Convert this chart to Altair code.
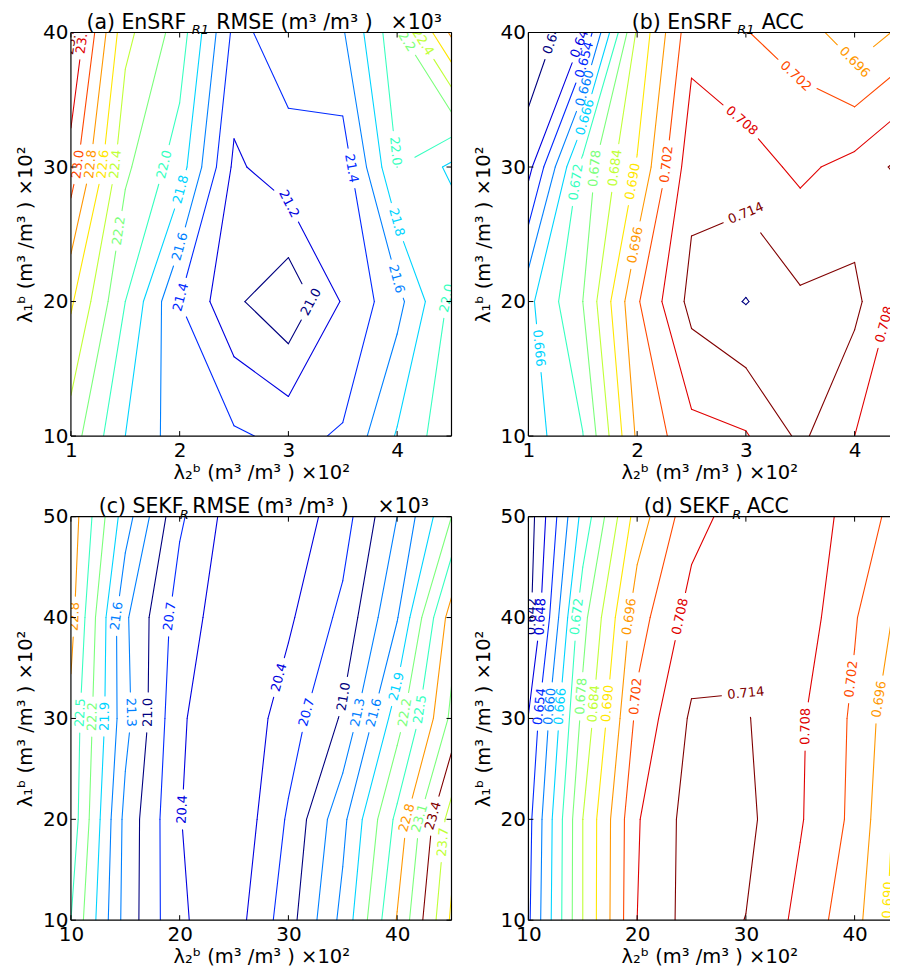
import math
import numpy as np
import pandas as pd
import altair as alt

FONT = "DejaVu Sans"
W, H = 381, 404          # full plot area of one panel
W_RIGHT = 362            # visible part of the right-hand panels (the page cuts them)

# ---------------- panel (a): EnSRF_R1 RMSE ----------------
A_X = [1.0, 1.5, 2.0, 2.5, 3.0, 3.5, 4.0, 4.5]
A_Y = [10, 20, 30, 40]
A_Z = [
    [22.30, 21.80, 21.49, 21.43, 21.35, 21.42, 21.82, 22.15],
    [22.63, 22.00, 21.40, 21.04, 20.84, 21.22, 21.53, 22.05],
    [23.11, 22.24, 21.90, 21.16, 21.33, 21.29, 22.00, 21.76],
    [23.42, 22.46, 22.11, 21.35, 21.49, 21.58, 22.15, 22.84],
]
A_LEVELS = [21.0, 21.2, 21.4, 21.6, 21.8, 22.0, 22.2, 22.4, 22.6, 22.8, 23.0, 23.2, 23.4]
A_LABELS = [
    (1.06, 30.2, 23.0), (1.20, 30.2, 22.8), (1.30, 30.2, 22.6), (1.41, 30.2, 22.4),
    (1.49, 25.2, 22.2), (1.85, 30.2, 22.0), (1.98, 28.4, 21.8), (1.95, 24.2, 21.6),
    (2.02, 20.3, 21.4), (1.01, 39.4, 23.4), (1.09, 39.5, 23.2),
    (2.99, 27.2, 21.2), (3.20, 20.0, 21.0), (3.58, 29.9, 21.4), (4.00, 21.7, 21.6),
    (4.00, 25.9, 21.8), (4.00, 31.2, 22.0), (4.43, 20.3, 22.0), (4.07, 39.6, 22.2),
    (4.24, 39.3, 22.4),
]
A_XTICKS = [1, 2, 3, 4]
A_YTICKS = [10, 20, 30, 40]

# ---------------- panel (b): EnSRF_R1 ACC ----------------
B_X = [1.0, 1.5, 2.0, 2.5, 3.0, 3.5, 4.0, 4.5]
B_Y = [10, 20, 30, 40]
B_Z = [
    [0.6630, 0.6718, 0.6970, 0.7060, 0.7075, 0.7152, 0.7080, 0.7040],
    [0.6645, 0.6780, 0.7013, 0.7160, 0.7203, 0.7150, 0.7156, 0.7041],
    [0.6460, 0.6744, 0.6905, 0.7119, 0.7107, 0.7067, 0.7101, 0.7164],
    [0.6370, 0.6475, 0.6850, 0.7060, 0.7022, 0.6994, 0.6920, 0.6980],
]
B_LEVELS = [0.642, 0.648, 0.654, 0.660, 0.666, 0.672, 0.678, 0.684, 0.690,
            0.696, 0.702, 0.708, 0.714, 0.720]
B_LABELS = [
    (1.27, 39.6, 0.642), (1.50, 39.4, 0.648), (1.50, 38.0, 0.654), (1.50, 35.9, 0.660),
    (1.48, 33.8, 0.666), (1.42, 28.9, 0.672), (1.61, 29.9, 0.678), (1.82, 29.9, 0.684),
    (1.98, 28.9, 0.690), (1.98, 24.2, 0.696), (2.27, 30.2, 0.702), (1.04, 16.5, 0.666),
    (3.50, 37.1, 0.702), (4.01, 37.5, 0.696), (3.01, 33.9, 0.708), (3.00, 27.2, 0.714),
    (4.27, 18.3, 0.708),
]
B_XTICKS = [1, 2, 3, 4]
B_YTICKS = [10, 20, 30, 40]

# ---------------- panel (c): SEKF_R RMSE ----------------
C_X = [10, 15, 20, 25, 30, 35, 40, 45]
C_Y = [10, 20, 30, 40, 50]
C_Z = [
    [22.50, 21.19, 20.43, 20.26, 20.87, 21.69, 22.82, 24.05],
    [22.70, 21.21, 20.41, 20.15, 20.74, 21.52, 22.58, 23.85],
    [22.72, 21.40, 20.44, 20.15, 20.55, 21.04, 22.06, 23.17],
    [22.90, 21.35, 20.55, 20.20, 20.35, 20.78, 21.58, 22.95],
    [22.98, 21.74, 20.75, 20.25, 20.20, 20.56, 21.30, 22.20],
]
C_LEVELS = [20.4, 20.7, 21.0, 21.3, 21.6, 21.9, 22.2, 22.5, 22.8, 23.1, 23.4, 23.7, 24.0]
C_LABELS = [
    (10.3, 40.1, 22.8), (14.6, 40.1, 21.6), (19.2, 40.1, 20.7), (29.7, 33.9, 20.4),
    (34.9, 32.2, 21.0), (39.8, 33.2, 21.9), (10.3, 30.6, 22.5), (11.4, 30.2, 22.2),
    (12.6, 30.2, 21.9), (15.5, 30.6, 21.3), (16.9, 30.6, 21.0), (31.7, 30.6, 20.7),
    (36.3, 30.6, 21.3), (37.7, 30.6, 21.6), (40.6, 30.6, 22.2), (42.1, 30.9, 22.5),
    (19.95, 21.0, 20.4), (41.4, 20.0, 22.8), (42.4, 20.0, 23.1), (43.5, 20.3, 23.4),
    (44.6, 17.7, 23.7),
]
C_XTICKS = [10, 20, 30, 40]
C_YTICKS = [10, 20, 30, 40, 50]

# ---------------- panel (d): SEKF_R ACC ----------------
D_X = [10, 15, 20, 25, 30, 35, 40, 45]
D_Y = [10, 20, 30, 40, 50]
D_Z = [
    [0.6530, 0.6840, 0.7080, 0.7166, 0.7139, 0.7063, 0.6980, 0.6846],
    [0.6520, 0.6840, 0.7075, 0.7165, 0.7155, 0.7085, 0.7005, 0.6853],
    [0.6483, 0.6797, 0.7035, 0.7149, 0.7145, 0.7088, 0.7009, 0.6886],
    [0.6400, 0.6760, 0.6994, 0.7103, 0.7125, 0.7115, 0.7025, 0.6930],
    [0.6387, 0.6680, 0.6929, 0.7059, 0.7110, 0.7105, 0.7065, 0.6975],
]
D_LEVELS = [0.642, 0.648, 0.654, 0.660, 0.666, 0.672, 0.678, 0.684, 0.690,
            0.696, 0.702, 0.708, 0.714]
D_LABELS = [
    (10.3, 40.1, 0.642), (10.86, 40.1, 0.648), (14.44, 40.1, 0.672), (19.2, 40.1, 0.696),
    (23.96, 40.1, 0.708), (29.9, 35.2, 0.714), (39.7, 33.9, 0.702), (42.2, 31.9, 0.696),
    (19.8, 32.2, 0.702), (10.9, 31.2, 0.654), (12.0, 31.2, 0.660), (12.9, 31.2, 0.666),
    (14.75, 32.2, 0.678), (15.5, 31.5, 0.684), (17.05, 31.5, 0.690), (36.1, 29.2, 0.708),
    (43.0, 12.0, 0.690),
]
D_XTICKS = [10, 20, 30, 40]
D_YTICKS = [10, 20, 30, 40, 50]

X_TITLE = "λ₂ᵇ  (m³ /m³ )  ×10²"
Y_TITLE = "λ₁ᵇ  (m³ /m³ )  ×10²"

# title pieces: (text, x offset from plot left, baseline offset from plot top, size, italic)
A_TITLE = [("(a) EnSRF", 15.5, -4, 20.5, False), ("R1", 121, 1.5, 13, True),
           ("RMSE (m³ /m³ )", 145.5, -4, 20.5, False), ("×10³", 320.0, -4, 20.5, False)]
B_TITLE = [("(b) EnSRF", 103.5, -4, 20.5, False), ("R1", 209, 1.5, 13, True),
           ("ACC", 233.5, -4, 20.5, False)]
C_TITLE = [("(c) SEKF", 27.8, -3.4, 20.5, False), ("R", 109, 2, 13, True),
           ("RMSE (m³ /m³ )", 121.5, -3.4, 20.5, False), ("×10³", 307.0, -3.4, 20.5, False)]
D_TITLE = [("(d) SEKF", 115.5, -3.4, 20.5, False), ("R", 204, 2, 13, True),
           ("ACC", 218.5, -3.4, 20.5, False)]


def jet(v):
    def seg(pts, t):
        for (x0, a0), (x1, a1) in zip(pts[:-1], pts[1:]):
            if t <= x1:
                return a0 + (a1 - a0) * (t - x0) / (x1 - x0)
        return pts[-1][1]
    r = seg([(0, 0), (0.35, 0), (0.66, 1), (0.89, 1), (1, 0.5)], v)
    g = seg([(0, 0), (0.125, 0), (0.375, 1), (0.64, 1), (0.91, 0), (1, 0)], v)
    b = seg([(0, 0.5), (0.11, 1), (0.34, 1), (0.65, 0), (1, 0)], v)
    return "#%02x%02x%02x" % tuple(int(round(255 * max(0, min(1, c)))) for c in (r, g, b))


def march(xs, ys, Z, levels):
    segs = []
    for lev in levels:
        for j in range(len(ys) - 1):
            for i in range(len(xs) - 1):
                c = [(xs[i], ys[j], Z[j][i]), (xs[i + 1], ys[j], Z[j][i + 1]),
                     (xs[i + 1], ys[j + 1], Z[j + 1][i + 1]), (xs[i], ys[j + 1], Z[j + 1][i])]
                pts = []
                for k in range(4):
                    x1, y1, z1 = c[k]
                    x2, y2, z2 = c[(k + 1) % 4]
                    if (z1 >= lev) != (z2 >= lev):
                        t = (lev - z1) / (z2 - z1)
                        pts.append((x1 + t * (x2 - x1), y1 + t * (y2 - y1)))
                if len(pts) == 2:
                    segs.append((lev, pts[0], pts[1]))
                elif len(pts) == 4:
                    centre = sum(p[2] for p in c) / 4.0
                    if (centre >= lev) == (c[0][2] >= lev):
                        segs.append((lev, pts[0], pts[1]))
                        segs.append((lev, pts[2], pts[3]))
                    else:
                        segs.append((lev, pts[3], pts[0]))
                        segs.append((lev, pts[1], pts[2]))
    return segs


def clip_out(a, b, c, r):
    d = (b[0] - a[0], b[1] - a[1])
    f = (a[0] - c[0], a[1] - c[1])
    A = d[0] ** 2 + d[1] ** 2
    if A == 0:
        return [(a, b)]
    B = 2 * (f[0] * d[0] + f[1] * d[1])
    C = f[0] ** 2 + f[1] ** 2 - r * r
    disc = B * B - 4 * A * C
    if disc <= 0:
        return [(a, b)]
    s = math.sqrt(disc)
    t1 = (-B - s) / (2 * A)
    t2 = (-B + s) / (2 * A)
    if t2 <= 0 or t1 >= 1:
        return [(a, b)]
    out = []
    if t1 > 0:
        out.append((a, (a[0] + t1 * d[0], a[1] + t1 * d[1])))
    if t2 < 1:
        out.append(((a[0] + t2 * d[0], a[1] + t2 * d[1]), b))
    return out


def text_width(txt, fs):
    w = 0
    for ch in txt:
        w += 0.318 if ch == "." else 0.636
    return w * fs


def build(xs, ys, Z, levels, fmt, labels, fs=13):
    xmin, xmax, ymin, ymax = xs[0], xs[-1], ys[0], ys[-1]
    fx = W / (xmax - xmin)
    fy = H / (ymax - ymin)
    P = lambda p: ((p[0] - xmin) * fx, (p[1] - ymin) * fy)
    D = lambda p: (p[0] / fx + xmin, p[1] / fy + ymin)
    segs = march(xs, ys, Z, levels)
    lab_rows, cuts = [], []
    for lx, ly, lev in labels:
        q = P((lx, ly))
        best = None
        for s in segs:
            if abs(s[0] - lev) > 1e-9:
                continue
            a, b = P(s[1]), P(s[2])
            dx, dy = b[0] - a[0], b[1] - a[1]
            L2 = dx * dx + dy * dy
            if L2 == 0:
                continue
            t = max(0.0, min(1.0, ((q[0] - a[0]) * dx + (q[1] - a[1]) * dy) / L2))
            px, py = a[0] + t * dx, a[1] + t * dy
            dd = (px - q[0]) ** 2 + (py - q[1]) ** 2
            if best is None or dd < best[0]:
                best = (dd, px, py, dx, dy)
        if best is None:
            continue
        _, px, py, dx, dy = best
        ang = math.degrees(math.atan2(dy, dx))
        if ang > 90:
            ang -= 180
        if ang <= -90:
            ang += 180
        txt = fmt % lev
        x, y = D((px, py))
        lab_rows.append({"x": x, "y": y, "level": fmt % lev, "text": txt, "angle": (-ang) % 360})
        cuts.append((lev, (px, py), text_width(txt, fs) / 2 + 6))
    seg_rows = []
    for lev, p1, p2 in segs:
        pieces = [(P(p1), P(p2))]
        for clev, c, r in cuts:
            if abs(clev - lev) > 1e-9:
                continue
            nxt = []
            for a, b in pieces:
                nxt.extend(clip_out(a, b, c, r))
            pieces = nxt
        for a, b in pieces:
            da, db = D(a), D(b)
            seg_rows.append({"x": da[0], "y": da[1], "x2": db[0], "y2": db[1], "level": fmt % lev})
    return pd.DataFrame(seg_rows), pd.DataFrame(lab_rows)


def panel(xs, ys, Z, levels, fmt, labels, xticks, yticks, title, width):
    seg_df, lab_df = build(xs, ys, Z, levels, fmt, labels)
    keys = [fmt % l for l in levels]
    n = len(levels)
    colors = [jet(i / (n - 1)) for i in range(n)]
    color = alt.Color("level:N", scale=alt.Scale(domain=keys, range=colors), legend=None)
    full = width >= W
    xmax = xs[-1] if full else xs[0] + width * (xs[-1] - xs[0]) / W
    xscale = alt.Scale(domain=[xs[0], xmax], nice=False, zero=False)
    yscale = alt.Scale(domain=[ys[0], ys[-1]], nice=False, zero=False)
    X = alt.X("x:Q", scale=xscale,
              axis=alt.Axis(values=xticks, title=X_TITLE, format="d", labelFlush=False))
    Y = alt.Y("y:Q", scale=yscale,
              axis=alt.Axis(values=yticks, title=Y_TITLE, format="d", labelFlush=False))
    lines = alt.Chart(seg_df).mark_rule(strokeWidth=1.1, strokeCap="round", clip=True).encode(
        x=X, y=Y, x2="x2:Q", y2="y2:Q", color=color)
    texts = alt.Chart(lab_df).mark_text(font=FONT, fontSize=13, clip=True).encode(
        x=X, y=Y, text="text:N", angle=alt.Angle("angle:Q", scale=None), color=color)
    xt = pd.DataFrame({"x": xticks})
    yt = pd.DataFrame({"y": yticks})
    tk = dict(color="black", strokeWidth=1)
    layers = [lines, texts,
              alt.Chart(xt).mark_rule(**tk).encode(x=X, y=alt.value(H), y2=alt.value(H - 5)),
              alt.Chart(xt).mark_rule(**tk).encode(x=X, y=alt.value(0), y2=alt.value(5)),
              alt.Chart(yt).mark_rule(**tk).encode(y=Y, x=alt.value(0), x2=alt.value(5))]
    one = pd.DataFrame({"k": [0]})
    fr = dict(color="black", strokeWidth=1.2)
    layers += [
        alt.Chart(one).mark_rule(**fr).encode(x=alt.value(0), x2=alt.value(width), y=alt.value(0)),
        alt.Chart(one).mark_rule(**fr).encode(x=alt.value(0), x2=alt.value(width), y=alt.value(H)),
        alt.Chart(one).mark_rule(**fr).encode(x=alt.value(0), y=alt.value(0), y2=alt.value(H)),
    ]
    if full:
        layers += [
            alt.Chart(yt).mark_rule(**tk).encode(y=Y, x=alt.value(W), x2=alt.value(W - 5)),
            alt.Chart(one).mark_rule(**fr).encode(x=alt.value(W), y=alt.value(0), y2=alt.value(H)),
        ]
    for txt, ox, oy, size, ital in title:
        layers.append(
            alt.Chart(pd.DataFrame({"t": [txt]})).mark_text(
                font=FONT, fontSize=size, align="left", baseline="alphabetic",
                fontStyle="italic" if ital else "normal", color="black"
            ).encode(x=alt.value(ox), y=alt.value(oy), text="t:N")
        )
    return alt.layer(*layers).properties(width=width, height=H)


pa = panel(A_X, A_Y, A_Z, A_LEVELS, "%.1f", A_LABELS, A_XTICKS, A_YTICKS, A_TITLE, W)
pb = panel(B_X, B_Y, B_Z, B_LEVELS, "%.3f", B_LABELS, B_XTICKS, B_YTICKS, B_TITLE, W_RIGHT)
pc = panel(C_X, C_Y, C_Z, C_LEVELS, "%.1f", C_LABELS, C_XTICKS, C_YTICKS, C_TITLE, W)
pd_ = panel(D_X, D_Y, D_Z, D_LEVELS, "%.3f", D_LABELS, D_XTICKS, D_YTICKS, D_TITLE, W_RIGHT)

chart = alt.concat(pa, pb, pc, pd_, columns=2, spacing={"row": 80.7, "column": 77},
                   bounds="flush").properties(
    padding={"left": 7, "top": 4, "right": 0, "bottom": 0}
).configure_view(stroke=None).configure_axis(
    labelFont=FONT, labelFontSize=20, labelColor="black",
    titleFont=FONT, titleFontSize=19.5, titleFontWeight="normal", titleColor="black",
    ticks=False, domain=False, grid=False,
).configure_axisY(titlePadding=7, labelPadding=3).configure_axisX(titlePadding=3, labelPadding=4)

chart.save("out.html", embed_options={"renderer": "svg", "actions": False})
